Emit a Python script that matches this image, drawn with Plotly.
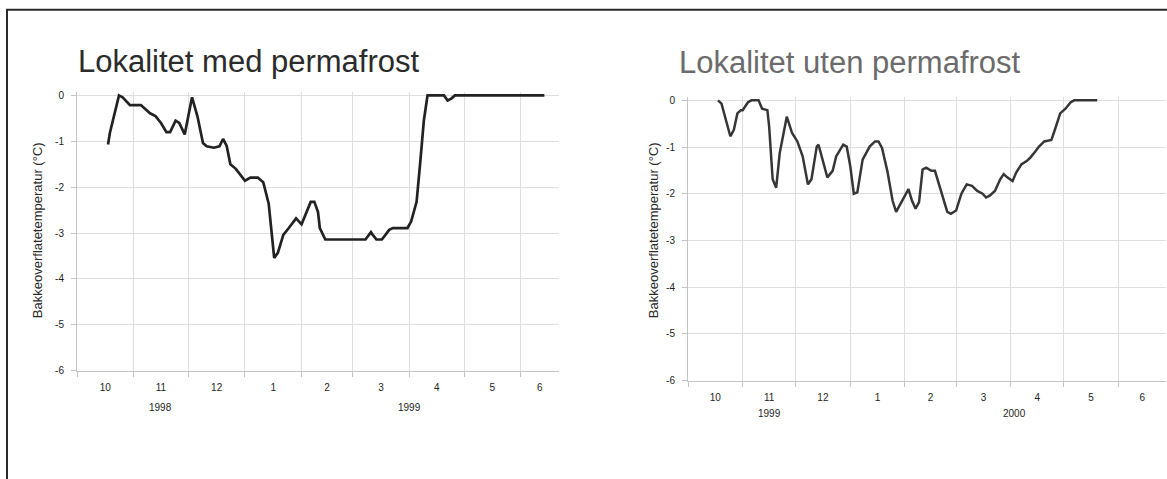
import pandas as pd
import plotly.graph_objects as go

# ---------------- data ----------------
LEFT_TITLE = "Lokalitet med permafrost"
RIGHT_TITLE = "Lokalitet uten permafrost"
Y_TITLE = "Bakkeoverflatetemperatur (°C)"
Y_TICKS = [0, -1, -2, -3, -4, -5, -6]

left_dates = ["1998-10-18", "1998-10-19", "1998-10-24", "1998-10-26", "1998-10-30",
              "1998-11-05", "1998-11-10", "1998-11-13", "1998-11-16", "1998-11-19",
              "1998-11-21", "1998-11-24", "1998-11-26", "1998-11-29", "1998-12-03",
              "1998-12-06", "1998-12-09", "1998-12-11", "1998-12-15", "1998-12-18",
              "1998-12-20", "1998-12-22", "1998-12-24", "1998-12-27", "1999-01-01",
              "1999-01-04", "1999-01-08", "1999-01-11", "1999-01-14", "1999-01-17",
              "1999-01-19", "1999-01-22", "1999-01-25", "1999-01-29", "1999-02-01",
              "1999-02-04", "1999-02-06", "1999-02-08", "1999-02-10", "1999-02-11",
              "1999-02-14", "1999-03-08", "1999-03-11", "1999-03-12", "1999-03-14",
              "1999-03-17", "1999-03-21", "1999-03-23", "1999-03-31", "1999-04-02",
              "1999-04-05", "1999-04-07", "1999-04-09", "1999-04-11", "1999-04-20",
              "1999-04-22", "1999-04-24", "1999-04-26", "1999-06-14"]
left_temp = [-1.07, -0.82, 0.0, -0.04, -0.21,
             -0.21, -0.39, -0.45, -0.6, -0.8,
             -0.8, -0.55, -0.6, -0.85, -0.04,
             -0.46, -1.04, -1.11, -1.14, -1.11,
             -0.95, -1.1, -1.5, -1.6, -1.86,
             -1.79, -1.79, -1.89, -2.36, -3.54,
             -3.43, -3.04, -2.89, -2.68, -2.81,
             -2.54, -2.32, -2.32, -2.54, -2.89,
             -3.14, -3.14, -2.98, -3.04, -3.14,
             -3.14, -2.93, -2.89, -2.89, -2.75,
             -2.32, -1.46, -0.54, 0.0, 0.0,
             -0.11, -0.07, 0.0, 0.0]

right_dates = ["1999-10-18", "1999-10-20", "1999-10-23", "1999-10-25", "1999-10-27",
               "1999-10-29", "1999-10-31", "1999-11-01", "1999-11-04", "1999-11-06",
               "1999-11-10", "1999-11-12", "1999-11-15", "1999-11-16", "1999-11-18",
               "1999-11-20", "1999-11-22", "1999-11-26", "1999-11-29", "1999-12-02",
               "1999-12-05", "1999-12-08", "1999-12-10", "1999-12-13", "1999-12-14",
               "1999-12-17", "1999-12-19", "1999-12-22", "1999-12-24", "1999-12-28",
               "1999-12-30", "2000-01-01", "2000-01-03", "2000-01-05", "2000-01-08",
               "2000-01-12", "2000-01-15", "2000-01-17", "2000-01-19", "2000-01-22",
               "2000-01-25", "2000-01-27", "2000-01-29", "2000-02-02", "2000-02-03",
               "2000-02-05", "2000-02-07", "2000-02-09", "2000-02-11", "2000-02-13",
               "2000-02-16", "2000-02-18", "2000-02-20", "2000-02-23", "2000-02-25",
               "2000-02-27", "2000-03-01", "2000-03-04", "2000-03-07", "2000-03-10",
               "2000-03-13", "2000-03-16", "2000-03-18", "2000-03-20", "2000-03-23",
               "2000-03-26", "2000-03-28", "2000-03-30", "2000-04-02", "2000-04-04",
               "2000-04-07", "2000-04-10", "2000-04-12", "2000-04-15", "2000-04-17",
               "2000-04-20", "2000-04-24", "2000-04-26", "2000-04-29", "2000-05-02",
               "2000-05-05", "2000-05-07", "2000-05-20"]
right_temp = [0.0, -0.07, -0.49, -0.77, -0.63,
              -0.28, -0.21, -0.21, -0.04, 0.0,
              0.0, -0.18, -0.21, -0.56, -1.69,
              -1.87, -1.13, -0.35, -0.7, -0.88,
              -1.2, -1.8, -1.69, -0.99, -0.95,
              -1.41, -1.65, -1.51, -1.2, -0.95,
              -0.99, -1.41, -2.0, -1.97, -1.27,
              -0.99, -0.88, -0.88, -1.02, -1.51,
              -2.15, -2.39, -2.25, -1.94, -1.9,
              -2.15, -2.32, -2.18, -1.48, -1.44,
              -1.51, -1.51, -1.76, -2.18, -2.39,
              -2.43, -2.36, -2.0, -1.8, -1.83,
              -1.94, -2.0, -2.08, -2.04, -1.94,
              -1.69, -1.58, -1.65, -1.73, -1.55,
              -1.37, -1.3, -1.23, -1.09, -0.99,
              -0.88, -0.85, -0.63, -0.28, -0.18,
              -0.04, 0.0, 0.0]

# ---------------- layout helpers ----------------
W, H = 1167, 479
FONT = "Liberation Sans, Arial, sans-serif"

def px_x(p):
    return p / W

def px_y(p):
    return 1 - p / H

LEFT_RANGE = ["1998-10-01", "1999-06-22"]
RIGHT_RANGE = ["1999-10-01", "2000-06-28"]

def month_ticks(rng):
    start = pd.Timestamp(rng[0])
    end = pd.Timestamp(rng[1])
    starts = list(pd.date_range(start, end, freq="MS"))
    mids, labels = [], []
    for i, s in enumerate(starts):
        nxt = starts[i + 1] if i + 1 < len(starts) else min(s + pd.offsets.MonthBegin(1), end)
        mids.append((s + (nxt - s) / 2).strftime("%Y-%m-%d %H:%M"))
        labels.append(str(s.month))
    return [s.strftime("%Y-%m-%d") for s in starts], mids, labels

fig = go.Figure()
fig.add_trace(go.Scatter(x=left_dates, y=left_temp, mode="lines",
                         line=dict(color="#222222", width=2.7),
                         xaxis="x", yaxis="y", showlegend=False, hoverinfo="skip"))
fig.add_trace(go.Scatter(x=right_dates, y=right_temp, mode="lines",
                         line=dict(color="#363636", width=2.5),
                         xaxis="x2", yaxis="y2", showlegend=False, hoverinfo="skip"))

GRID = "#dedede"
AXLINE = "#c4c4c4"
TICKFONT = dict(family=FONT, size=10, color="#1e1e1e")

def xaxis_cfg(rng, domain, anchor):
    starts, mids, labels = month_ticks(rng)
    return dict(type="date", range=rng, domain=domain, anchor=anchor,
                tickmode="array", tickvals=mids, ticktext=labels,
                ticks="outside", ticklen=7, tickcolor="rgba(0,0,0,0)",
                showgrid=False, showline=True, linecolor=AXLINE, linewidth=1,
                tickfont=TICKFONT, zeroline=False, fixedrange=True,
                minor=dict(tickmode="array", tickvals=starts, ticks="outside",
                           ticklen=5, tickcolor=AXLINE, showgrid=True,
                           gridcolor=GRID, gridwidth=1))

def yaxis_cfg(domain, anchor):
    return dict(range=[-6, 0.08], domain=domain, anchor=anchor,
                tickmode="array", tickvals=Y_TICKS, ticktext=[str(v) for v in Y_TICKS],
                ticks="outside", ticklen=5, tickcolor=AXLINE,
                ticklabelstandoff=5,
                showgrid=True, gridcolor=GRID, gridwidth=1,
                showline=True, linecolor=AXLINE, linewidth=1,
                zeroline=False, fixedrange=True, tickfont=TICKFONT)

L_TOP = 95 - 0.08 * (280 / 6)
R_TOP = 100 - 0.08 * (285 / 6)

fig.update_layout(
    width=W, height=H,
    margin=dict(l=0, r=0, t=0, b=0),
    paper_bgcolor="white", plot_bgcolor="white",
    xaxis=xaxis_cfg(LEFT_RANGE, [px_x(77), px_x(559)], "y"),
    yaxis=yaxis_cfg([px_y(375), px_y(L_TOP)], "x"),
    xaxis2=xaxis_cfg(RIGHT_RANGE, [px_x(688), px_x(1166)], "y2"),
    yaxis2=yaxis_cfg([px_y(385), px_y(R_TOP)], "x2"),
    shapes=[dict(type="rect", xref="paper", yref="paper",
                 x0=px_x(7), x1=1.05, y0=-0.05, y1=px_y(8),
                 line=dict(color="#2a2a2a", width=2), fillcolor="rgba(0,0,0,0)")],
)

annotations = [
    dict(text=LEFT_TITLE, xref="paper", yref="paper", x=px_x(76), y=px_y(61),
         xanchor="left", yanchor="middle", showarrow=False,
         font=dict(family=FONT, size=31, color="#2b2b2b")),
    dict(text=RIGHT_TITLE, xref="paper", yref="paper", x=px_x(677), y=px_y(62),
         xanchor="left", yanchor="middle", showarrow=False,
         font=dict(family=FONT, size=31, color="#6b6b6b")),
    dict(text=Y_TITLE, xref="paper", yref="paper", x=px_x(37), y=px_y(232),
         xanchor="center", yanchor="middle", textangle=-90, showarrow=False,
         font=dict(family=FONT, size=13, color="#2a2a2a")),
    dict(text=Y_TITLE, xref="paper", yref="paper", x=px_x(653), y=px_y(232),
         xanchor="center", yanchor="middle", textangle=-90, showarrow=False,
         font=dict(family=FONT, size=13, color="#2a2a2a")),
]

# year labels under the month axis
_, lmids, _ = month_ticks(LEFT_RANGE)
_, rmids, _ = month_ticks(RIGHT_RANGE)
year_labels = [
    ("1998", "x", lmids[1], 412),
    ("1999", "x", "1999-04-01", 412),
    ("1999", "x2", rmids[1], 418),
    ("2000", "x2", "2000-04-03", 418),
]
for txt, xr, xv, ypix in year_labels:
    annotations.append(dict(text=txt, xref=xr, yref="paper", x=xv, y=px_y(ypix),
                            xanchor="center", yanchor="middle", showarrow=False,
                            font=TICKFONT))

fig.update_layout(annotations=annotations)
fig.write_html("out.html")
